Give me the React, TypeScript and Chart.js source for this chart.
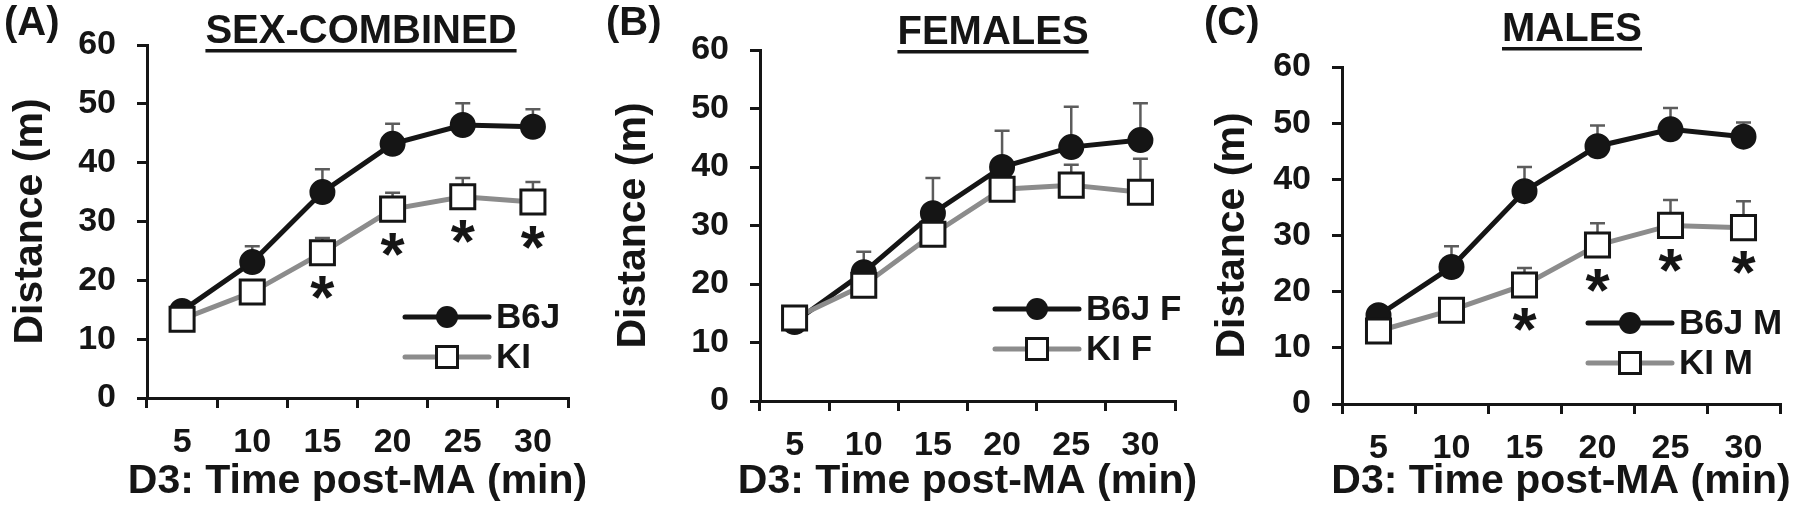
import React, { useEffect, useRef } from 'react';
import { Chart, registerables } from 'chart.js';

Chart.register(...registerables);

const FONT = "'Liberation Sans', Arial, Helvetica, sans-serif";
const INK = '#151515';
const KI_LINE = '#8c8c8c';
const ERR = '#5c5c5c';

// ---- data ----
const timeLabels = ['5', '10', '15', '20', '25', '30'];
const yMin = 0;
const yMax = 60;
const yStep = 10;

const combinedB6J = [14.8, 23.1, 35.0, 43.2, 46.4, 46.1];
const combinedB6JSem = [1.0, 2.7, 3.9, 3.4, 3.7, 3.0];
const combinedKI = [13.4, 18.0, 24.7, 32.1, 34.2, 33.3];
const combinedKISem = [0.8, 1.5, 2.5, 2.8, 3.2, 3.4];
const combinedSig = [false, false, true, true, true, true];

const femaleB6J = [13.5, 22.0, 32.1, 40.0, 43.4, 44.6];
const femaleB6JSem = [1.0, 3.5, 6.0, 6.2, 6.9, 6.3];
const femaleKI = [14.2, 19.8, 28.5, 36.2, 36.9, 35.7];
const femaleKISem = [0.8, 1.5, 2.5, 2.5, 3.5, 5.7];
const femaleSig = [false, false, false, false, false, false];

const maleB6J = [15.8, 24.4, 37.9, 45.9, 48.9, 47.6];
const maleB6JSem = [1.2, 3.7, 4.3, 3.7, 3.8, 2.5];
const maleKI = [13.0, 16.7, 21.2, 28.3, 31.8, 31.4];
const maleKISem = [0.8, 1.3, 3.0, 3.9, 4.5, 4.7];
const maleSig = [false, false, true, true, true, true];

const yTitle = 'Distance (m)';
const xTitle = 'D3: Time post-MA (min)';

// ---- layout (canvas-local pixels) ----
const W = 600;
const H = 517;

type Panel = {
  letter: string; letterX: number;
  title: string; titleX: number; titleBase: number;
  b6jLabel: string; kiLabel: string;
  b6j: number[]; b6jSem: number[]; ki: number[]; kiSem: number[]; sig: boolean[];
  area: { left: number; right: number; top: number; bottom: number };
  legend: { x: number; y: number };
  yTitlePad: number;
};

const PANELS: Panel[] = [
  {
    letter: '(A)', letterX: 4, title: 'SEX-COMBINED', titleX: 361, titleBase: 43,
    b6jLabel: 'B6J', kiLabel: 'KI',
    b6j: combinedB6J, b6jSem: combinedB6JSem, ki: combinedKI, kiSem: combinedKISem, sig: combinedSig,
    area: { left: 147, right: 568, top: 45, bottom: 398 },
    legend: { x: 405, y: 317 }, yTitlePad: 6,
  },
  {
    letter: '(B)', letterX: 6, title: 'FEMALES', titleX: 393, titleBase: 44,
    b6jLabel: 'B6J F', kiLabel: 'KI F',
    b6j: femaleB6J, b6jSem: femaleB6JSem, ki: femaleKI, kiSem: femaleKISem, sig: femaleSig,
    area: { left: 160, right: 575, top: 50, bottom: 401 },
    legend: { x: 395, y: 309 }, yTitlePad: 9,
  },
  {
    letter: '(C)', letterX: 4, title: 'MALES', titleX: 372, titleBase: 41,
    b6jLabel: 'B6J M', kiLabel: 'KI M',
    b6j: maleB6J, b6jSem: maleB6JSem, ki: maleKI, kiSem: maleKISem, sig: maleSig,
    area: { left: 142, right: 583, top: 67, bottom: 404 },
    legend: { x: 388, y: 323 }, yTitlePad: 8,
  },
];

function font(size: number) {
  return `bold ${size}px ${FONT}`;
}

function drawMarker(ctx: CanvasRenderingContext2D, kind: 'circle' | 'square', x: number, y: number, s: number) {
  ctx.beginPath();
  if (kind === 'circle') {
    ctx.arc(x, y, s, 0, Math.PI * 2);
    ctx.fillStyle = INK;
    ctx.fill();
  } else {
    ctx.rect(x - s, y - s, 2 * s, 2 * s);
    ctx.fillStyle = '#ffffff';
    ctx.fill();
    ctx.lineWidth = 3;
    ctx.strokeStyle = INK;
    ctx.stroke();
  }
}

function makeDecor(p: Panel) {
  return {
    id: 'panelDecor',
    beforeDatasetsDraw(chart: any) {
      const ctx: CanvasRenderingContext2D = chart.ctx;
      const xs = chart.scales.x;
      const ys = chart.scales.y;
      ctx.save();
      ctx.strokeStyle = ERR;
      ctx.lineWidth = 2.5;
      const sets: [number[], number[]][] = [[p.b6j, p.b6jSem], [p.ki, p.kiSem]];
      sets.forEach(([m, s]) => {
        m.forEach((v, i) => {
          const x = xs.getPixelForValue(i);
          const y0 = ys.getPixelForValue(v);
          const y1 = ys.getPixelForValue(v + s[i]);
          ctx.beginPath();
          ctx.moveTo(x, y0);
          ctx.lineTo(x, y1);
          ctx.moveTo(x - 7.5, y1);
          ctx.lineTo(x + 7.5, y1);
          ctx.stroke();
        });
      });
      ctx.restore();
    },
    afterDatasetsDraw(chart: any) {
      const ctx: CanvasRenderingContext2D = chart.ctx;
      const xs = chart.scales.x;
      const ys = chart.scales.y;
      ctx.save();
      ctx.font = font(62);
      ctx.fillStyle = INK;
      ctx.textAlign = 'center';
      ctx.textBaseline = 'alphabetic';
      const m = ctx.measureText('*');
      const A = m.actualBoundingBoxAscent;
      const D = m.actualBoundingBoxDescent;
      p.sig.forEach((s, i) => {
        if (!s) return;
        const x = xs.getPixelForValue(i);
        const cy = ys.getPixelForValue(p.ki[i]) + 35;
        ctx.fillText('*', x, cy + (A - D) / 2);
      });
      ctx.restore();
    },
    afterDraw(chart: any) {
      const ctx: CanvasRenderingContext2D = chart.ctx;
      const area = chart.chartArea;
      ctx.save();
      ctx.fillStyle = INK;
      // panel letter
      ctx.font = font(40);
      ctx.textAlign = 'left';
      ctx.textBaseline = 'alphabetic';
      ctx.fillText(p.letter, p.letterX, 35);
      // underlined title
      ctx.font = font(40);
      ctx.textAlign = 'center';
      ctx.fillText(p.title, p.titleX, p.titleBase);
      const tw = ctx.measureText(p.title).width;
      ctx.fillRect(p.titleX - tw / 2, p.titleBase + 6, tw, 3.5);
      // x axis title
      ctx.font = font(41);
      ctx.textBaseline = 'middle';
      ctx.fillText(xTitle, (area.left + area.right) / 2, 482);
      // legend
      const rows: { label: string; color: string; kind: 'circle' | 'square'; size: number }[] = [
        { label: p.b6jLabel, color: INK, kind: 'circle', size: 11 },
        { label: p.kiLabel, color: KI_LINE, kind: 'square', size: 10.5 },
      ];
      rows.forEach((r, k) => {
        const y = p.legend.y + k * 40;
        const x0 = p.legend.x;
        const x1 = x0 + 84;
        ctx.beginPath();
        ctx.moveTo(x0, y);
        ctx.lineTo(x1, y);
        ctx.lineWidth = 5;
        ctx.lineCap = 'round';
        ctx.strokeStyle = r.color;
        ctx.stroke();
        drawMarker(ctx, r.kind, (x0 + x1) / 2, y, r.size);
        ctx.fillStyle = INK;
        ctx.font = font(35);
        ctx.textAlign = 'left';
        ctx.textBaseline = 'middle';
        ctx.fillText(r.label, x1 + 7, y + 1);
      });
      ctx.restore();
    },
  };
}

function PanelChart({ p, left }: { p: Panel; left: number }) {
  const ref = useRef<HTMLCanvasElement | null>(null);
  useEffect(() => {
    if (!ref.current) return;
    const axisGrid = {
      display: true,
      drawOnChartArea: false,
      drawTicks: true,
      tickLength: 10,
      lineWidth: 3,
      color: INK,
    };
    const chart = new Chart(ref.current, {
      type: 'line',
      data: {
        labels: timeLabels,
        datasets: [
          {
            label: p.b6jLabel,
            data: p.b6j,
            borderColor: INK,
            borderWidth: 5,
            pointStyle: 'circle',
            pointRadius: 12,
            pointBorderWidth: 2,
            pointBackgroundColor: INK,
            pointBorderColor: INK,
            tension: 0,
            order: 1,
            clip: false,
          },
          {
            label: p.kiLabel,
            data: p.ki,
            borderColor: KI_LINE,
            borderWidth: 5,
            pointStyle: 'rect',
            pointRadius: 17,
            pointBorderWidth: 3,
            pointBackgroundColor: '#ffffff',
            pointBorderColor: INK,
            tension: 0,
            order: 0,
            clip: false,
          },
        ],
      },
      options: {
        responsive: false,
        animation: false,
        events: [],
        layout: {
          padding: { left: 0, top: p.area.top, right: W - p.area.right, bottom: 0 },
        },
        plugins: {
          legend: { display: false },
          tooltip: { enabled: false },
          title: { display: false },
        },
        scales: {
          x: {
            type: 'category',
            offset: true,
            grid: { ...axisGrid, offset: true },
            border: { display: true, width: 3, color: INK },
            ticks: {
              color: INK,
              font: { family: FONT, size: 34, weight: 'bold' },
              padding: 14,
              autoSkip: false,
              maxRotation: 0,
            },
            afterFit: (s: any) => { s.height = H - p.area.bottom; },
          },
          y: {
            type: 'linear',
            min: yMin,
            max: yMax,
            grid: axisGrid,
            border: { display: true, width: 3, color: INK },
            ticks: {
              stepSize: yStep,
              color: INK,
              font: { family: FONT, size: 34, weight: 'bold' },
              padding: 21,
            },
            title: {
              display: true,
              text: yTitle,
              color: INK,
              font: { family: FONT, size: 41, weight: 'bold' },
              padding: { top: p.yTitlePad, bottom: 0 },
            },
            afterFit: (s: any) => { s.width = p.area.left; },
          },
        },
      },
      plugins: [makeDecor(p)],
    } as any);
    return () => chart.destroy();
  }, [p]);
  return (
    <canvas
      ref={ref}
      width={W}
      height={H}
      style={{ position: 'absolute', left, top: 0, width: W, height: H, display: 'block' }}
    />
  );
}

export default function App() {
  return (
    <div style={{ position: 'absolute', left: 0, top: 0, width: 1800, height: 517, background: '#ffffff', overflow: 'hidden' }}>
      {PANELS.map((p, i) => (
        <PanelChart key={i} p={p} left={i * W} />
      ))}
    </div>
  );
}
